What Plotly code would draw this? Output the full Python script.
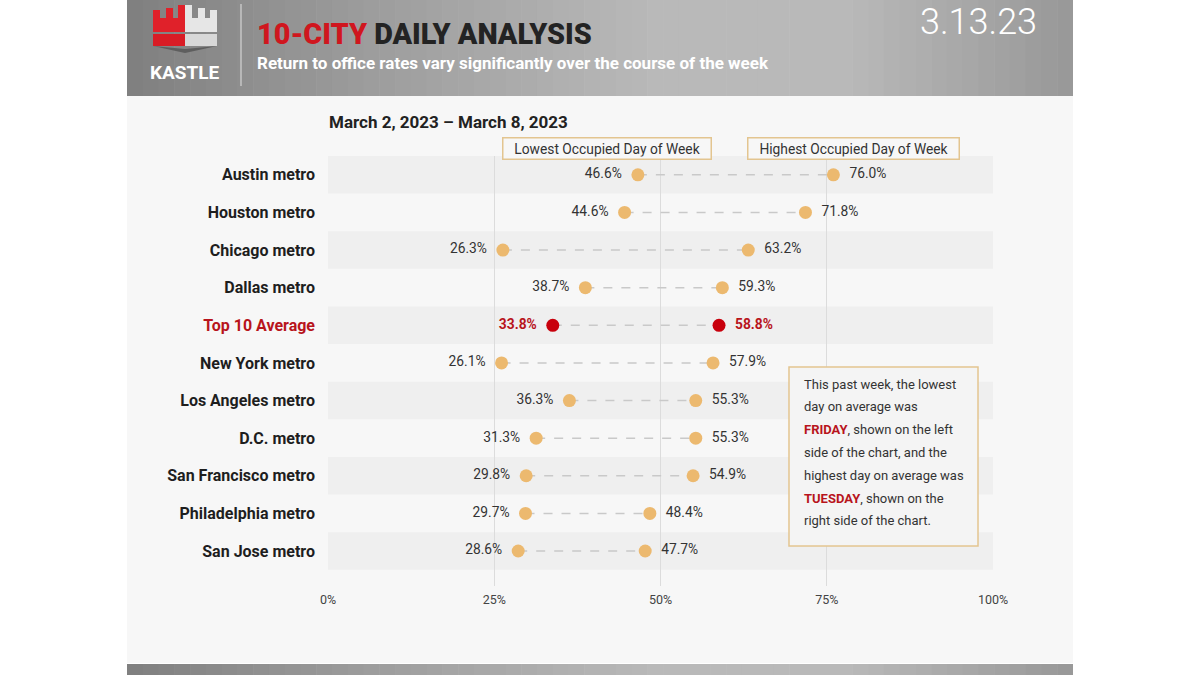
import plotly.graph_objects as go

# ---------------- data ----------------
cities = ["Austin metro", "Houston metro", "Chicago metro", "Dallas metro",
          "Top 10 Average", "New York metro", "Los Angeles metro", "D.C. metro",
          "San Francisco metro", "Philadelphia metro", "San Jose metro"]
lowest = [46.6, 44.6, 26.3, 38.7, 33.8, 26.1, 36.3, 31.3, 29.8, 29.7, 28.6]
highest = [76.0, 71.8, 63.2, 59.3, 58.8, 57.9, 55.3, 55.3, 54.9, 48.4, 47.7]
x_ticks = [0, 25, 50, 75, 100]
x_tick_labels = ["0%", "25%", "50%", "75%", "100%"]
highlight = "Top 10 Average"

W, H = 1200, 675
FONT = "Roboto"
ORANGE = "#ecb96f"
RED_DOT = "#c8000c"
RED_TXT = "#b8141c"
GRID = "#dcdcdc"
TAN = "#e3c590"
DARK = "#222222"


def px(x):
    return x / W


def py(y):
    return 1 - y / H


fig = go.Figure()

ypos = list(range(len(cities)))

# connector lines
lx, ly = [], []
for i in ypos:
    lx += [lowest[i], highest[i], None]
    ly += [i, i, None]
fig.add_trace(go.Scatter(x=lx, y=ly, mode="lines",
                         line=dict(color="#c9c9c9", width=1.5, dash="dash"),
                         hoverinfo="skip", showlegend=False))

norm = [i for i in ypos if cities[i] != highlight]
hl = [i for i in ypos if cities[i] == highlight]

for idx, col, tcol, weight in [(norm, ORANGE, "#333333", "normal"),
                               (hl, RED_DOT, RED_TXT, "bold")]:
    for vals, pos in [(lowest, "middle left"), (highest, "middle right")]:
        fig.add_trace(go.Scatter(
            x=[vals[i] for i in idx], y=idx, mode="markers",
            marker=dict(color=col, size=13),
            showlegend=False, hoverinfo="skip"))
        fig.add_trace(go.Scatter(
            x=[vals[i] for i in idx], y=idx, mode="markers+text",
            marker=dict(color="rgba(0,0,0,0)", size=24),
            text=[f"{vals[i]:.1f}%" for i in idx], textposition=pos,
            textfont=dict(family=FONT, size=13.8, color=tcol, weight=weight),
            showlegend=False, hoverinfo="skip"))

tick_text = [f"<span style='color:{RED_TXT}'>{c}</span>" if c == highlight else c
             for c in cities]

shapes = []
shapes.append(dict(type="rect", xref="paper", yref="paper", x0=px(127), x1=px(1073),
                   y0=py(663), y1=py(96), fillcolor="#f7f7f7", line=dict(width=0),
                   layer="below"))


def grad(x):
    stops = [(127, 0x80), (350, 0x9b), (650, 0xb9), (850, 0xb9), (1073, 0x98)]
    for (a, ca), (b, cb) in zip(stops[:-1], stops[1:]):
        if a <= x <= b:
            v = int(ca + (cb - ca) * (x - a) / (b - a))
            return f"rgb({v},{v},{v})"
    return "rgb(150,150,150)"


n = 60
step = (1073 - 127) / n
for k in range(n):
    x0 = 127 + k * step
    c = grad(x0 + step / 2)
    x1 = min(x0 + step + 0.6, 1073)
    shapes.append(dict(type="rect", xref="paper", yref="paper", x0=px(x0), x1=px(x1),
                       y0=py(96), y1=py(0), fillcolor=c, line=dict(width=0), layer="below"))
    shapes.append(dict(type="rect", xref="paper", yref="paper", x0=px(x0), x1=px(x1),
                       y0=py(675), y1=py(664), fillcolor=c, line=dict(width=0), layer="below"))

for i in ypos:
    if i % 2 == 0:
        shapes.append(dict(type="rect", xref="x", yref="y", x0=0, x1=100,
                           y0=i - 0.5, y1=i + 0.5, fillcolor="#efefef",
                           line=dict(width=0), layer="below"))

shapes.append(dict(type="line", xref="paper", yref="paper", x0=px(241), x1=px(241),
                   y0=py(4), y1=py(86), line=dict(color="#d4d4d4", width=1.2)))


def rect(x0, y0, x1, y1, color):
    return dict(type="rect", xref="paper", yref="paper", x0=px(x0), x1=px(x1),
                y0=py(y1), y1=py(y0), fillcolor=color, line=dict(width=0))


RED_LOGO = "#e0212a"
SILVER = "#e6e6e6"
shapes += [
    rect(153, 18, 185, 32, RED_LOGO), rect(153, 10, 160, 18, RED_LOGO),
    rect(166, 8, 173, 18, RED_LOGO), rect(178, 5, 185, 18, RED_LOGO),
    rect(185, 18, 217, 32, SILVER), rect(185, 5, 192, 18, SILVER),
    rect(198, 8, 205, 18, SILVER), rect(210, 10, 217, 18, SILVER),
    rect(153, 34, 185, 46, "#d91c25"), rect(185, 34, 217, 46, "#d8d8d8"),
]
shapes.append(dict(type="path", xref="paper", yref="paper",
                   path=f"M {px(153)} {py(46)} L {px(185)} {py(53)} L {px(217)} {py(46)} L {px(185)} {py(49)} Z",
                   fillcolor="#5e5e5e", line=dict(width=0)))

shapes.append(dict(type="rect", xref="paper", yref="paper", x0=px(789), x1=px(978),
                   y0=py(546), y1=py(367), fillcolor="#f4f4f4",
                   line=dict(color=TAN, width=1.5)))

annotations = []


def ann(text, x, y, size, color, weight="normal", xanchor="left", family=FONT, **kw):
    annotations.append(dict(text=text, x=px(x), y=py(y), xref="paper", yref="paper",
                            xanchor=xanchor, yanchor="middle", showarrow=False,
                            font=dict(family=family, size=size, color=color, weight=weight), **kw))


ann("<span style='color:#d0161e'>10-CITY</span> DAILY ANALYSIS", 255, 34, 28.8, "#232323", weight=900)
ann("Return to office rates vary significantly over the course of the week", 255, 63, 17,
    "#ffffff", weight="bold")
ann("3.13.23", 1039, 22, 36, "#ffffff", weight=300, xanchor="right")
ann("KASTLE", 185, 72, 19, "#ffffff", weight="bold", xanchor="center")
ann("March 2, 2023 – March 8, 2023", 327, 122, 17, DARK, weight="bold")

for label, cx, w in [("Lowest Occupied Day of Week", 606.5, 203),
                     ("Highest Occupied Day of Week", 853, 206)]:
    annotations.append(dict(text=label, x=px(cx), y=py(148.5), xref="paper", yref="paper",
                            xanchor="center", yanchor="middle", showarrow=False,
                            font=dict(family=FONT, size=13.8, color="#333333"),
                            bgcolor="#f7f7f7", bordercolor=TAN, borderwidth=1.5,
                            borderpad=2, width=w, height=16))

note_lines = [
    "This past week, the lowest",
    "day on average was",
    f"<span style='color:{RED_TXT}'><b>FRIDAY</b></span>, shown on the left",
    "side of the chart, and the",
    "highest day on average was",
    f"<span style='color:{RED_TXT}'><b>TUESDAY</b></span>, shown on the",
    "right side of the chart.",
]
for k, line in enumerate(note_lines):
    ann(line, 802, 384 + k * 22.8, 13, "#333333")

fig.update_layout(
    template="none",
    width=W, height=H, autosize=False,
    margin=dict(l=0, r=0, t=0, b=0, pad=0, autoexpand=False),
    paper_bgcolor="#ffffff", plot_bgcolor="rgba(0,0,0,0)",
    showlegend=False,
    shapes=shapes, annotations=annotations,
    xaxis=dict(domain=[px(328), px(993)], range=[0, 100], tickvals=x_ticks,
               ticktext=x_tick_labels, showgrid=True, gridcolor=GRID, gridwidth=1,
               zeroline=False, showline=False, ticks="", fixedrange=True,
               automargin=False,
               tickfont=dict(family=FONT, size=12.5, color="#444444"),
               ticklabelstandoff=4),
    yaxis=dict(domain=[py(586), py(156)], range=[10.93, -0.5], tickvals=ypos,
               ticktext=tick_text, showgrid=False, zeroline=False, showline=False,
               ticks="", fixedrange=True, ticklabelstandoff=12, automargin=False,
               tickfont=dict(family=FONT, size=16, color="#1e1e1e", weight="bold")),
)

fig.write_html("out.html", config={"displayModeBar": False, "responsive": False},
               post_script="document.body.style.margin='0';document.body.style.overflow='hidden';")
